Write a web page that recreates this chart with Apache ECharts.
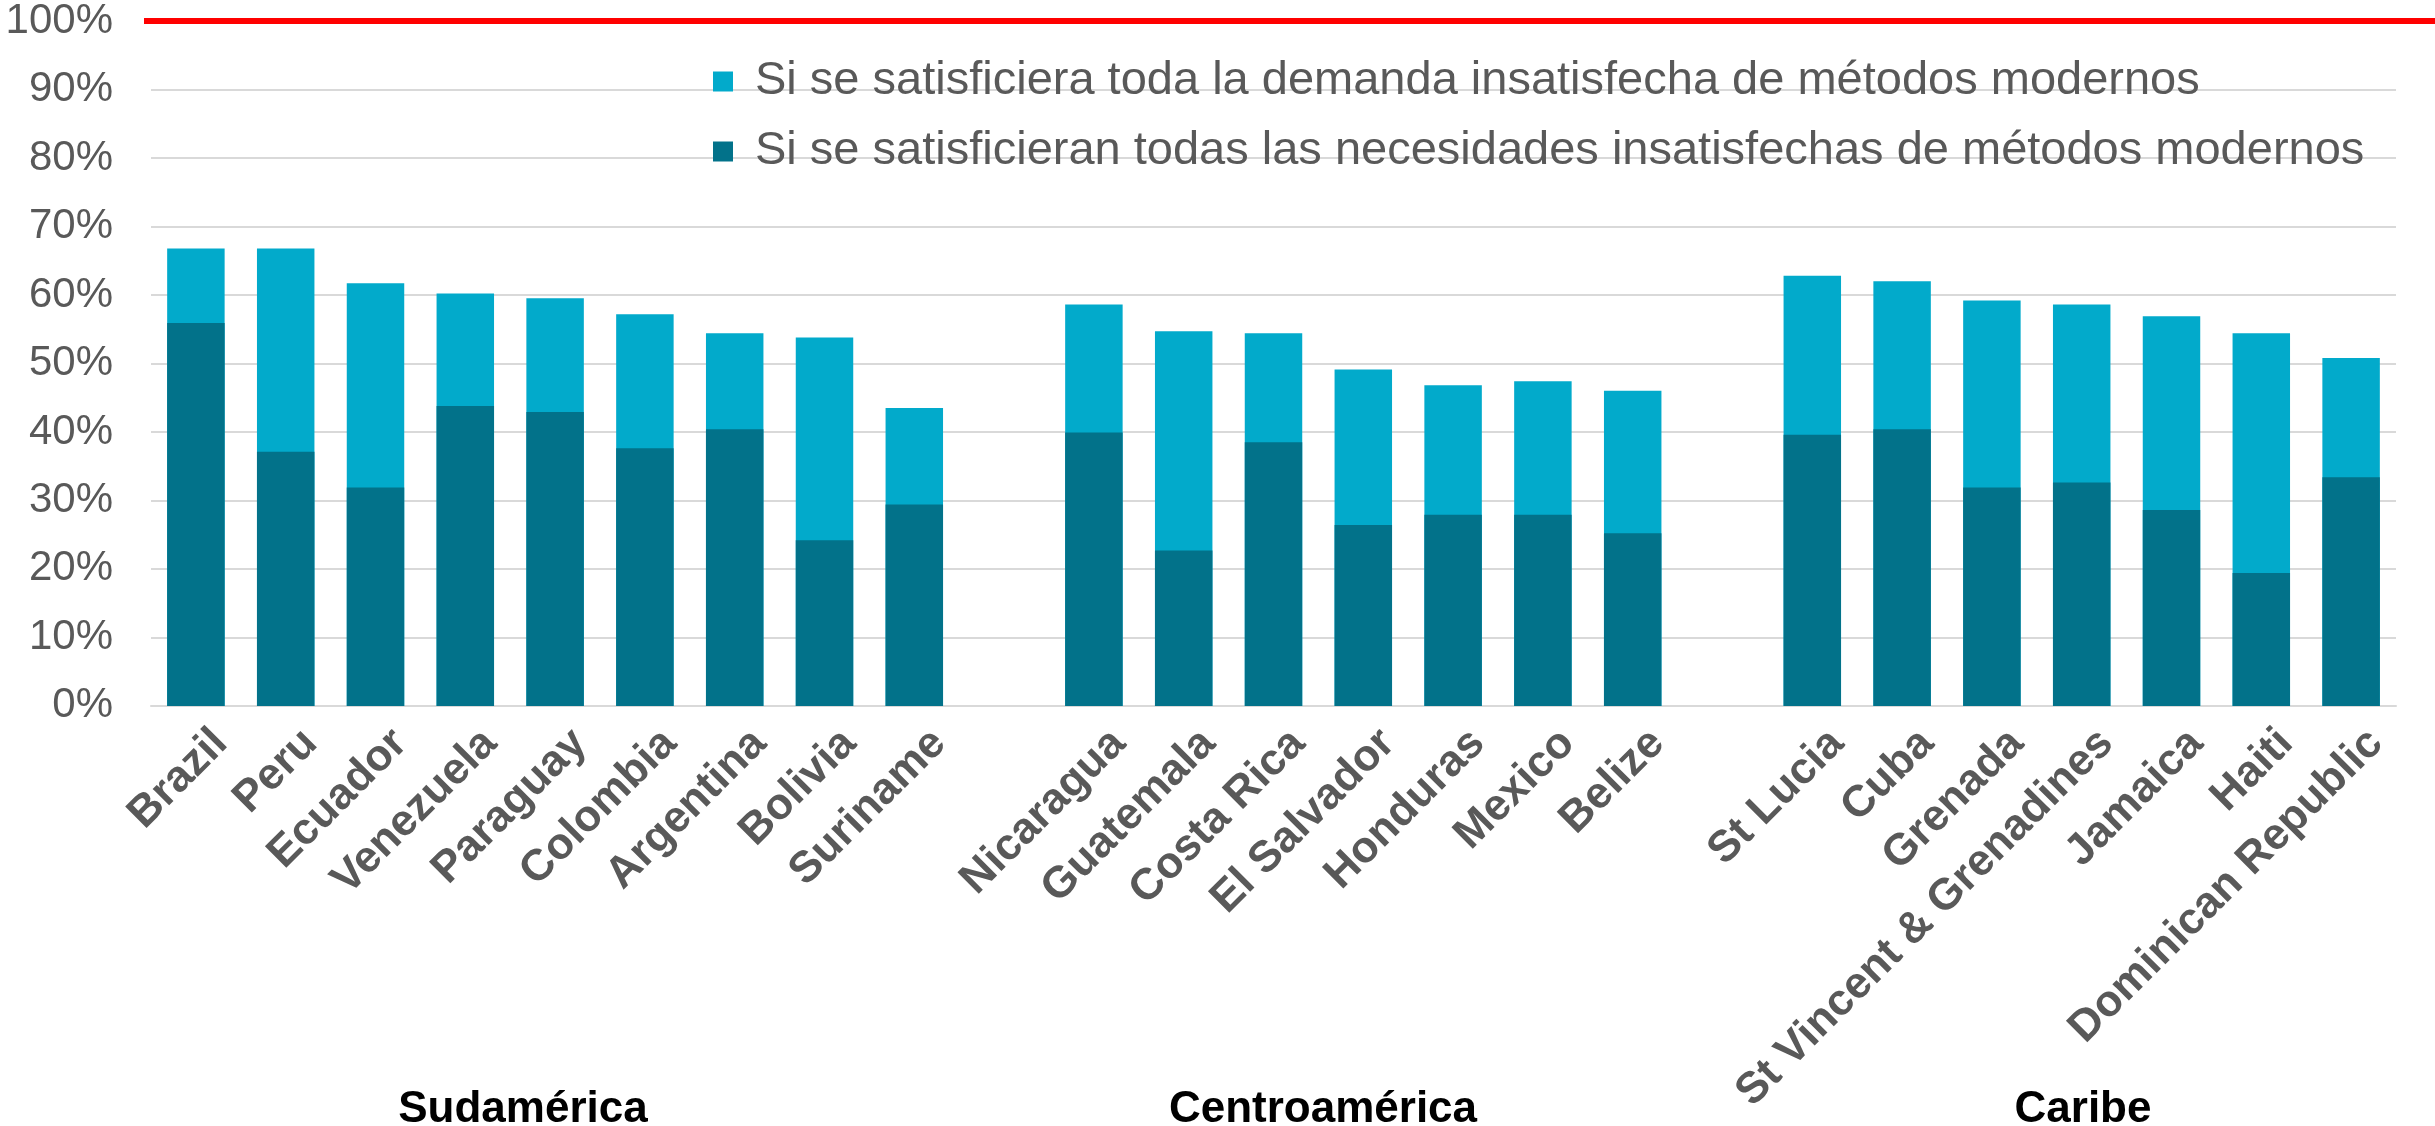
<!DOCTYPE html>
<html>
<head>
<meta charset="utf-8">
<title>Demanda insatisfecha de métodos modernos</title>
<script src="https://cdn.jsdelivr.net/npm/echarts@6/dist/echarts.min.js"></script>
<style>
  html, body { margin: 0; padding: 0; background: #fff; }
  #chart { width: 2435px; height: 1126px; }
</style>
</head>
<body>
<div id="chart"></div>
<script>
// categorías (con un hueco vacío entre regiones)
const categories = [
  'Brazil', 'Peru', 'Ecuador', 'Venezuela', 'Paraguay', 'Colombia', 'Argentina', 'Bolivia', 'Suriname',
  '',
  'Nicaragua', 'Guatemala', 'Costa Rica', 'El Salvador', 'Honduras', 'Mexico', 'Belize',
  '',
  'St Lucia', 'Cuba', 'Grenada', 'St Vincent & Grenadines', 'Jamaica', 'Haiti', 'Dominican Republic'
]
// si se satisficiera toda la demanda insatisfecha (barra clara, total)
const demandaTotal = [
  66.8, 66.8, 61.7, 60.2, 59.5, 57.2, 54.4, 53.8, 43.5,
  null,
  58.6, 54.7, 54.4, 49.1, 46.8, 47.4, 46.0,
  null,
  62.8, 62.0, 59.2, 58.6, 56.9, 54.4, 50.8
]
// si se satisficieran todas las necesidades insatisfechas (barra oscura)
const necesidades = [
  55.9, 37.1, 31.9, 43.8, 42.9, 37.6, 40.4, 24.2, 29.4,
  null,
  39.9, 22.7, 38.5, 26.4, 27.9, 27.9, 25.2,
  null,
  39.6, 40.4, 31.9, 32.6, 28.6, 19.4, 33.4
]
const regiones = ['Sudamérica', 'Centroamérica', 'Caribe']
const regionX = [523, 1323, 2083]
const yTicks = [0, 10, 20, 30, 40, 50, 60, 70, 80, 90, 100]

const serieClara = 'Si se satisficiera toda la demanda insatisfecha de métodos modernos'
const serieOscura = 'Si se satisficieran todas las necesidades insatisfechas de métodos modernos'

const chart = echarts.init(document.getElementById('chart'))

chart.setOption({
  animation: false,
  textStyle: { fontFamily: 'Liberation Sans, Arial, sans-serif' },
  grid: { left: 151, right: 39, top: 20, bottom: 418, containLabel: false },
  legend: {
    orient: 'vertical',
    left: 708,
    top: 53,
    itemWidth: 20,
    itemHeight: 20,
    itemGap: 23,
    icon: 'rect',
    textStyle: { fontSize: 47, color: '#595959', padding: [0, 0, 0, 17] },
    data: [serieClara, serieOscura]
  },
  xAxis: {
    type: 'category',
    data: categories,
    axisTick: { show: false },
    axisLine: { lineStyle: { color: '#d9d9d9', width: 2 } },
    axisLabel: {
      interval: 0,
      rotate: 45,
      margin: 6,
      fontSize: 44,
      lineHeight: 70,
      verticalAlign: 'top',
      fontWeight: 'bold',
      color: '#595959'
    }
  },
  yAxis: {
    type: 'value',
    min: yTicks[0],
    max: yTicks[yTicks.length - 1],
    interval: 10,
    axisLine: { show: false },
    axisTick: { show: false },
    splitLine: { lineStyle: { color: '#d9d9d9', width: 2 } },
    axisLabel: {
      margin: 38,
      fontSize: 42,
      color: '#595959',
      formatter: '{value}%'
    }
  },
  series: [
    {
      name: serieClara,
      type: 'bar',
      data: demandaTotal,
      barWidth: '64%',
      itemStyle: { color: '#02aacb' }
    },
    {
      name: serieOscura,
      type: 'bar',
      data: necesidades,
      barWidth: '64%',
      barGap: '-100%',
      itemStyle: { color: '#02728a' }
    }
  ]
})

// línea roja en el 100% y nombres de las regiones
const y100 = chart.convertToPixel({ yAxisIndex: 0 }, 100)
chart.setOption({
  graphic: [
    {
      type: 'line',
      shape: { x1: 144, y1: y100, x2: 2435, y2: y100 },
      style: { stroke: '#ff0000', lineWidth: 6 },
      z: 10
    }
  ].concat(regiones.map((r, i) => ({
    type: 'text',
    x: regionX[i],
    y: 1110,
    style: {
      text: r,
      font: 'bold 44px Liberation Sans, Arial, sans-serif',
      fill: '#000',
      align: 'center',
      verticalAlign: 'middle'
    }
  })))
})
</script>
</body>
</html>
